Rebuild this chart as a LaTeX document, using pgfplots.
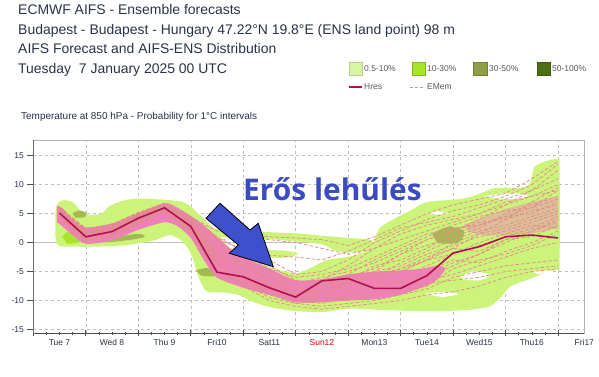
\documentclass[border=0pt]{standalone}
\usepackage{pgfplots}
\pgfplotsset{compat=1.18}
\usepackage{fontspec}
\setmainfont{Liberation Sans}
\newfontfamily\annfont{Open Sans}
\definecolor{lg}{RGB}{205,244,122}
\definecolor{lgbox}{RGB}{214,247,160}
\definecolor{mg}{RGB}{166,230,40}
\definecolor{og}{RGB}{165,185,80}
\definecolor{ogbox}{RGB}{141,160,68}
\definecolor{dg}{RGB}{79,110,18}
\definecolor{pk}{RGB}{240,128,188}
\definecolor{mem}{RGB}{226,140,140}
\definecolor{hres}{RGB}{176,16,80}
\definecolor{txt}{RGB}{40,50,70}
\definecolor{ann}{RGB}{60,76,192}
\definecolor{arr}{RGB}{64,80,205}
\pgfplotstableread{
x m1 m2 m3 m4 m5 m6 m7 m8 m9 m10 m11 m12 m13 m14 m15 m16 m17 m18 m19 m20 m21 m22 m23 m24 m25 m26
0.5 5.5 4.8 5.8 4.5 5.2 6.0 4.2 5.0 5.6 4.6 6.2 5.3 4.9 5.4 5.1 4.7 5.7 4.4 5.9 4.3 5.0 5.3 4.9 5.6 6.1 4.6
1.0 1.5 0.8 2.0 0.5 1.2 2.5 0.2 1.0 1.8 0.6 2.2 1.3 0.9 1.6 1.1 0.7 1.7 0.4 2.1 0.3 1.0 1.4 0.9 1.9 2.3 0.6
1.5 2.5 1.5 2.8 1.2 2.0 3.0 1.0 1.8 2.4 1.4 3.2 2.2 1.6 2.6 1.9 1.3 2.7 1.1 2.9 1.1 1.7 2.3 1.7 2.5 3.1 1.3
2.0 4.5 3.8 4.8 3.5 4.0 5.0 3.2 4.2 4.6 3.6 5.2 4.3 3.9 4.4 4.1 3.7 4.7 3.4 4.9 3.3 4.0 4.4 4.0 4.6 5.1 3.6
2.5 6.2 5.8 6.5 5.5 6.0 6.6 5.2 6.1 6.4 5.6 6.8 6.0 5.9 6.3 6.2 5.7 6.6 5.4 6.7 5.3 6.0 6.2 5.9 6.4 6.7 5.5
3.0 3.5 2.0 4.2 2.5 3.0 4.5 1.5 2.8 3.8 2.2 4.0 3.2 2.6 3.6 3.4 2.4 4.4 2.0 4.3 1.8 3.0 3.3 2.7 3.6 4.1 2.3
3.5 -3.0 -5.0 1.0 -4.0 -2.0 0.0 -5.5 -3.5 -1.0 -4.5 0.5 -2.5 -4.8 -1.5 -3.0 -5.0 2.0 -1.5 0.5 -6.0 -2.5 -3.5 -4.0 -2.0 -0.5 -5.0
4.0 -4.0 -6.5 -1.5 -6.5 -5.0 -2.5 -7.0 -5.5 -3.5 -7.5 -1.0 -4.5 -6.0 -3.0 -4.0 -7.0 1.5 -2.0 0.8 -7.5 -3.5 -6.0 -5.5 -4.0 -2.0 -6.5
4.5 -6.0 -8.5 -4.0 -9.0 -7.0 -5.0 -9.5 -7.5 -6.5 -9.0 -3.0 -7.5 -8.0 -5.5 -6.5 -8.5 1.0 -2.2 0.5 -10.0 -5.0 -8.0 -7.0 -6.0 -4.5 -8.0
5.0 -8.0 -10.0 -6.5 -10.5 -9.0 -7.0 -10.5 -9.0 -8.5 -10.0 -5.5 -9.5 -9.5 -8.0 -9.0 -10.0 0.8 -2.5 0.0 -11.0 -7.0 -9.5 -8.5 -8.0 -6.0 -9.0
5.5 -7.5 -9.0 -7.0 -10.0 -8.0 -6.5 -11.0 -8.5 -9.0 -9.5 -5.0 -9.0 -10.0 -7.5 -8.0 -10.5 0.5 -3.0 -1.0 -11.5 -6.0 -7.0 -8.5 -7.0 -5.5 -9.5
6.0 -6.0 -8.5 -5.5 -9.5 -7.0 -4.0 -10.5 -8.0 -7.0 -10.0 -3.0 -6.5 -9.0 -7.5 -6.0 -9.5 -0.5 -1.5 -2.0 -11.0 -5.0 -6.0 -7.5 -6.5 -4.5 -8.5
6.5 -4.5 -7.0 -3.0 -8.0 -6.0 -1.0 -10.0 -7.5 -5.0 -9.0 0.0 -4.0 -8.5 -6.0 -5.0 -9.0 1.0 0.5 -1.0 -10.5 -3.5 -6.5 -7.0 -5.5 -2.5 -8.0
7.0 -2.0 -5.0 -1.0 -6.5 -3.5 1.5 -9.0 -6.0 -4.0 -7.5 2.0 -3.0 -8.0 -4.5 -2.0 -8.5 3.0 2.5 0.5 -10.0 -1.5 -5.0 -7.0 -4.5 -0.5 -7.0
7.5 0.5 -3.0 1.0 -5.5 -1.5 3.0 -8.0 -4.0 -2.0 -6.5 4.0 -1.0 -7.0 -3.0 -0.5 -7.5 5.0 3.5 2.0 -9.0 0.5 -3.0 -6.0 -2.5 1.5 -5.0
8.0 2.0 -1.0 3.0 -3.5 0.5 4.0 -6.0 -2.0 -0.5 -5.5 5.5 1.5 -6.5 -2.0 1.0 -4.5 6.5 4.5 3.5 -8.5 2.0 0.0 -4.0 -1.0 2.5 -3.0
8.5 4.0 1.5 4.5 -2.0 2.0 5.0 -5.0 -0.5 1.0 -4.0 6.5 3.0 -6.0 0.0 2.5 -3.0 7.5 6.0 5.0 -7.5 3.5 1.5 -2.0 -1.5 3.0 -3.5
9.0 6.5 4.0 5.5 0.0 3.0 7.0 -4.0 1.0 2.0 -2.5 8.0 4.5 -5.0 1.5 5.0 -2.0 8.5 7.5 6.5 -6.0 4.0 2.5 0.5 0.5 4.5 -1.5
9.5 9.0 7.0 6.0 2.0 4.5 8.0 -3.5 2.5 3.5 -1.0 10.0 5.0 -4.5 3.0 6.5 -0.5 11.0 9.0 8.0 -5.0 5.5 4.0 1.0 2.0 6.0 0.0
10.0 12.5 9.5 7.5 3.5 6.0 10.0 -3.0 4.5 5.0 0.0 13.5 7.0 -4.0 2.5 8.0 1.5 14.0 11.0 9.0 -4.5 6.5 5.5 3.0 4.0 9.0 2.0
}\members
\pgfplotstableread{
x h
0.5 5.1
1.0 1.0
1.5 1.9
2.0 4.2
2.5 6.0
3.0 2.8
3.5 -5.1
4.0 -5.9
4.5 -7.8
5.0 -9.4
5.5 -6.6
6.0 -6.2
6.5 -7.9
7.0 -7.9
7.5 -5.7
8.0 -1.8
8.5 -0.7
9.0 1.0
9.5 1.3
10.0 0.8
}\hres
\begin{document}
\begin{tikzpicture}
\useasboundingbox (0,0) rectangle (599bp,-377bp);
\begin{scope}[every node/.style={anchor=base west, inner sep=0pt, text=txt, font=\fontsize{14}{16}\selectfont}]
\node at (18bp,-14bp) {ECMWF AIFS - Ensemble forecasts};
\node at (18bp,-34bp) {Budapest - Budapest - Hungary 47.22°N 19.8°E (ENS land point) 98 m};
\node at (18bp,-53.5bp) {AIFS Forecast and AIFS-ENS Distribution};
\node at (18bp,-73.5bp) {Tuesday\ \ 7 January 2025 00 UTC};
\node[font=\fontsize{10}{12}\selectfont] at (21bp,-119bp) {Temperature at 850 hPa - Probability for 1°C intervals};
\end{scope}
% legend
\begin{scope}[every node/.style={anchor=west, inner sep=0pt, text=black!65, font=\fontsize{8.5}{10}\selectfont}]
\filldraw[fill=lgbox, draw=lg!70!black!60] (349bp,-62bp) rectangle (362bp,-75.5bp);
\node at (364bp,-68.5bp) {0.5-10\%};
\filldraw[fill=mg, draw=mg!80!black] (412bp,-62bp) rectangle (425bp,-75.5bp);
\node at (427bp,-68.5bp) {10-30\%};
\filldraw[fill=ogbox, draw=ogbox!80!black] (473bp,-62bp) rectangle (487bp,-75.5bp);
\node at (489bp,-68.5bp) {30-50\%};
\filldraw[fill=dg, draw=dg!80!black] (537bp,-62bp) rectangle (550bp,-75.5bp);
\node at (552bp,-68.5bp) {50-100\%};
\draw[hres, line width=1.6bp] (349bp,-87bp) -- (362bp,-87bp);
\node at (364bp,-87bp) {Hres};
\draw[mem, line width=0.8bp, dash pattern=on 3bp off 2bp] (410bp,-87bp) -- (425bp,-87bp);
\node at (427bp,-87bp) {EMem};
\end{scope}
\begin{axis}[
  scale only axis, width=551bp, height=193bp,
  at={(33.3bp,-333bp)}, anchor=south west,
  xmin=0, xmax=10.5, ymin=-15.6, ymax=17.7,
  xtick={0,...,10}, xticklabels={},
  minor x tick num=3,
  extra x ticks={0.5,1.5,...,10.5},
  extra x tick labels={Tue 7,Wed 8,Thu 9,Fri10,Sat11,\textcolor{red!80!black}{Sun12},Mon13,Tue14,Wed15,Thu16,Fri17},
  extra x tick style={major tick length=0pt, grid=none},
  ytick={-15,-10,-5,5,10,15}, extra y ticks={0},
  extra y tick style={grid style={solid, black!25}},
  grid=major, grid style={dashed, black!25},
  tick pos=left, xtick align=center, ytick align=outside,
  major tick length=6bp, minor tick length=3bp,
  tick style={black!70, line width=0.6bp},
  axis line style={black!30},
  tick label style={font=\fontsize{8.5}{10}\selectfont, text=txt},
  xticklabel style={yshift=-3bp},
  /pgf/number format/assume math mode=true,
  clip=true,
]
% light green main envelope
\addplot[fill=lg, draw=none, smooth, tension=0.45] coordinates {
(0.42,5.0) (0.45,6.5) (0.55,7.3) (0.75,7.0) (0.9,5.5) (1.05,4.8) (1.3,5.0) (1.45,6.3) (1.7,7.2) (2.0,7.6) (2.5,7.4) (2.85,7.0) (3.0,6.2) (3.15,5.0) (3.3,3.6) (3.45,2.3) (3.6,0.5) (3.8,-1.5) (4.0,-2.8) (4.3,-3.5) (4.6,-4.5) (5.0,-5.3) (5.3,-4.3) (5.6,-3.0) (5.9,-2.6) (6.2,-2.0) (6.45,-0.5) (6.6,2.5) (6.9,4.2) (7.2,5.6) (7.5,7.0) (8.0,7.4) (8.3,7.8) (8.55,8.6) (8.8,9.4) (9.2,9.4) (9.45,10.0) (9.55,13.0) (9.75,14.0) (10.0,14.4) (10.03,13.0)
(10.03,-4.0) (10.0,-4.6) (9.7,-5.4) (9.4,-6.5) (9.1,-7.5) (8.9,-9.5) (8.7,-11.0) (8.3,-11.6) (7.8,-11.8) (7.2,-11.8) (6.6,-11.6) (6.0,-11.4) (5.5,-12.0) (5.0,-11.8) (4.6,-11.3) (4.2,-10.3) (3.9,-9.0) (3.6,-8.6) (3.3,-8.4) (3.15,-6.0) (3.05,-3.0) (2.95,-1.0) (2.8,0.5) (2.6,1.3) (2.35,0.5) (2.1,0.0) (1.7,-0.5) (1.2,-0.7) (0.7,-0.7) (0.48,-0.5) (0.42,1.0)
} -- cycle;
% streak near 0 C
\addplot[fill=lg, draw=none, smooth, tension=0.45] coordinates {
(3.2,2.2) (3.6,2.4) (4.0,2.0) (4.5,1.8) (5.0,1.6) (5.5,1.2) (6.0,0.8) (6.4,0.5) (6.5,-0.5) (6.2,-1.6) (5.8,-1.5) (5.5,-0.3) (5.0,0.2) (4.5,0.6) (4.0,0.8) (3.6,0.9) (3.25,1.2)
} -- cycle;
\addplot[fill=lg, draw=none, smooth, tension=0.45] coordinates {
(3.75,-1.0) (4.2,-1.2) (4.8,-1.4) (5.05,-1.9) (4.8,-2.6) (4.2,-2.5) (3.8,-2.0)
} -- cycle;
% 10-30 and 30-50 spots
\addplot[fill=mg, draw=none, smooth, tension=0.6] coordinates {(0.55,1.0) (0.65,1.8) (0.85,1.6) (0.95,0.8) (0.85,0.0) (0.65,-0.2)} -- cycle;
\addplot[fill=og, draw=none, smooth, tension=0.6] coordinates {(0.75,5.0) (0.85,5.5) (1.0,5.2) (0.98,4.4) (0.8,4.3)} -- cycle;
\addplot[fill=og, draw=none, smooth, tension=0.6] coordinates {(1.2,0.6) (1.6,1.0) (2.0,1.5) (2.1,0.9) (1.6,0.2) (1.2,0.0)} -- cycle;
\addplot[fill=og, draw=none, smooth, tension=0.6] coordinates {(3.1,-4.8) (3.3,-4.4) (3.5,-4.9) (3.45,-5.8) (3.2,-5.7)} -- cycle;
\addplot[fill=og, draw=none, smooth, tension=0.6] coordinates {(6.6,-6.0) (6.9,-5.4) (7.2,-6.0) (7.1,-7.0) (6.7,-7.1)} -- cycle;
\addplot[fill=og, draw=none, smooth, tension=0.6] coordinates {(7.6,1.5) (7.9,2.7) (8.2,2.0) (8.1,0.0) (7.7,-0.1)} -- cycle;
\addplot[fill=og, draw=none, smooth, tension=0.6] coordinates {(5.6,-8.5) (5.8,-8.3) (6.0,-8.9) (5.9,-9.5) (5.65,-9.3)} -- cycle;
% white holes
\addplot[fill=white, draw=none, smooth, tension=0.6] coordinates {(8.6,8.0) (9.0,8.5) (9.4,8.3) (9.3,7.6) (8.9,7.5)} -- cycle;
\addplot[fill=white, draw=none, smooth, tension=0.6] coordinates {(7.55,5.1) (7.7,5.4) (7.9,5.0) (7.7,4.8)} -- cycle;
\addplot[fill=white, draw=none, smooth, tension=0.6] coordinates {(8.15,-5.8) (8.4,-5.0) (8.7,-5.6) (8.5,-6.5) (8.2,-6.4)} -- cycle;
\addplot[fill=white, draw=none, smooth, tension=0.6] coordinates {(7.45,-8.9) (7.8,-8.5) (8.1,-8.9) (7.8,-9.4)} -- cycle;
\addplot[fill=white, draw=none, smooth, tension=0.6] coordinates {(9.5,-5.0) (9.8,-4.8) (9.9,-5.2) (9.6,-5.4)} -- cycle;
% dense ensemble (pink)
\addplot[fill=pk, draw=none, smooth, tension=0.45] coordinates {
(0.45,6.3) (0.55,6.0) (0.75,4.0) (1.0,2.6) (1.5,3.3) (2.0,5.0) (2.5,6.8) (2.75,6.0) (3.0,4.6) (3.25,3.0) (3.5,1.0) (3.75,-1.0) (4.0,-2.5) (4.5,-4.5) (5.0,-6.5) (5.5,-6.3) (6.0,-5.5) (6.5,-5.0) (7.0,-4.8) (7.4,-4.5) (7.7,-4.0) (7.85,-4.6)
(7.6,-7.0) (7.0,-9.0) (6.5,-9.8) (6.0,-10.0) (5.5,-10.3) (5.0,-10.3) (4.5,-9.0) (4.0,-7.8) (3.5,-6.0) (3.25,-3.0) (3.0,0.8) (2.75,2.8) (2.5,3.5) (2.0,2.2) (1.5,0.4) (1.0,-0.2) (0.75,1.3) (0.5,3.2) (0.45,3.5)
} -- cycle;
\addplot[fill=pk, fill opacity=0.45, draw=none] coordinates {
(8.2,3.0) (8.6,4.5) (9.0,5.8) (9.5,7.0) (10.0,8.0) (10.0,2.5) (9.5,1.5) (9.0,1.2) (8.6,1.2) (8.3,1.8)
} -- cycle;
% members
\foreach \m in {m1,m2,m3,m4,m5,m6,m7,m8,m9,m10,m11,m12,m13,m14,m15,m16,m17,m18,m19,m20,m21,m22,m23,m24,m25,m26}{
  \addplot[mem, line width=0.75bp, dash pattern=on 3.5bp off 2bp] table[x=x, y=\m] {\members};
}
% Hres
\addplot[hres, line width=1.6bp] table[x=x, y=h] {\hres};
\draw[black!70, line width=0.8bp] (rel axis cs:0,1) -- (rel axis cs:0,0) -- (rel axis cs:1,0);
\end{axis}
% annotation
\filldraw[fill=arr, draw=black, line width=0.8bp, line join=miter]
 (220bp,-203.3bp) -- (250bp,-230bp) -- (258.3bp,-223.3bp) -- (273.3bp,-266.7bp) -- (229.3bp,-253.3bp) -- (238.3bp,-245bp) -- (206bp,-218.3bp) -- cycle;
\node[anchor=base west, inner sep=0pt, text=ann, font=\annfont\bfseries\fontsize{30}{33}\selectfont] at (243bp,-200.5bp) {Erős lehűlés};
\end{tikzpicture}
\end{document}
